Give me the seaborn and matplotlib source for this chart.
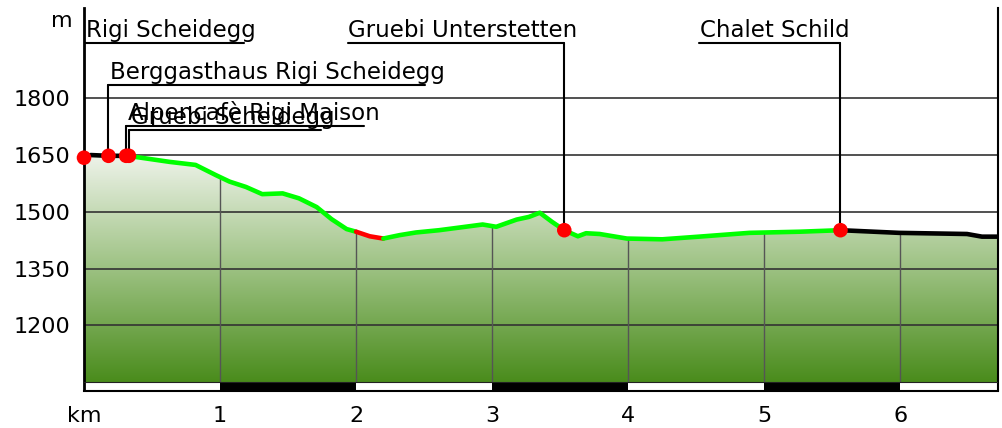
import numpy as np
import pandas as pd
import seaborn as sns
import matplotlib.pyplot as plt
from matplotlib.colors import LinearSegmentedColormap

# profile (km, m)
dist_km = [0.00, 0.05, 0.18, 0.31, 0.33, 0.38, 0.63, 0.82, 0.97, 1.07, 1.19, 1.31,
           1.46, 1.58, 1.71, 1.82, 1.93, 2.00, 2.10, 2.20, 2.32, 2.44, 2.61, 2.76,
           2.93, 3.03, 3.18, 3.27, 3.35, 3.44, 3.53, 3.63, 3.69, 3.79, 3.99, 4.25,
           4.52, 4.89, 5.26, 5.56, 5.99, 6.49, 6.60, 6.72]
elev_m = [1642, 1649, 1647, 1647, 1647, 1644, 1631, 1623, 1596, 1579, 1565, 1546,
          1548, 1535, 1512, 1480, 1454, 1447, 1435, 1429, 1438, 1445, 1451, 1458,
          1466, 1460, 1479, 1486, 1497, 1473, 1451, 1435, 1443, 1441, 1429, 1427,
          1434, 1444, 1447, 1451, 1444, 1441, 1434, 1434]

# coloured sections of the track
seg_start = [0.00, 0.33, 2.00, 2.20, 5.56]
seg_end = [0.33, 2.00, 2.20, 5.56, 6.72]
seg_color = ['black', '#00ff00', 'red', '#00ff00', 'black']

# waypoints
wp_names = ['Rigi Scheidegg', 'Berggasthaus Rigi Scheidegg', 'Alpencafè Rigi Maison',
            'Gruebi Scheidegg', 'Gruebi Unterstetten', 'Chalet Schild']
wp_km = [0.00, 0.18, 0.31, 0.33, 3.53, 5.56]
wp_m = [1642, 1647, 1647, 1647, 1451, 1451]
wp_label_m = [1944, 1833, 1725, 1715, 1944, 1944]
wp_side = ['right', 'right', 'right', 'right', 'left', 'left']

y_ticks = [1200, 1350, 1500, 1650, 1800]
x_ticks = [0, 1, 2, 3, 4, 5, 6]
x_labels = ['km', '1', '2', '3', '4', '5', '6']

ymin, ymax = 1028.6, 2036.5
base = 1050
xmax = dist_km[-1]

sns.set_style('white')
plt.rcParams['font.family'] = ['DejaVu Sans']
plt.rcParams['text.color'] = 'black'
plt.rcParams['xtick.color'] = 'black'
plt.rcParams['ytick.color'] = 'black'

fig = plt.figure(figsize=(10.02, 4.28), dpi=100)
ax = fig.add_axes([84 / 1002, 1 - 390.5 / 428, (998.3 - 84) / 1002, (390.5 - 8) / 428])
ax.set_xlim(0, xmax)
ax.set_ylim(ymin, ymax)

df = pd.DataFrame({'km': dist_km, 'm': elev_m})

# gradient fill under the profile
poly = ax.fill_between(df['km'], base, df['m'], facecolor='none', edgecolor='none')
cmap = LinearSegmentedColormap.from_list('hill', ['#4a8c1c', '#9fc385', '#f3f6f0'])
grad = np.linspace(0, 1, 256).reshape(-1, 1)
im = ax.imshow(grad, cmap=cmap, origin='lower', aspect='auto',
               extent=[0, xmax, base, 1665], zorder=1)
im.set_clip_path(poly.get_paths()[0], transform=ax.transData)
ax.set_xlim(0, xmax)
ax.set_ylim(ymin, ymax)

# grid
for yv in y_ticks:
    ax.axhline(yv, color='#333333', lw=1.2, zorder=2)
for xv in x_ticks[1:]:
    ax.vlines(xv, base, np.interp(xv, dist_km, elev_m), color='#555555', lw=1, zorder=2)

# km scale bar
bar_x = x_ticks
bar_w = [min(1, xmax - x) for x in bar_x]
bar_c = ['white' if i % 2 == 0 else 'black' for i in range(len(bar_x))]
ax.bar(bar_x, base - ymin, width=bar_w, bottom=ymin, align='edge',
       color=bar_c, edgecolor='none', zorder=2)
ax.axhline(base, color='#222222', lw=0.8, zorder=3)

# track
for s, e, c in zip(seg_start, seg_end, seg_color):
    part = df[(df['km'] >= s) & (df['km'] <= e)]
    sns.lineplot(data=part, x='km', y='m', color=c, lw=3.3, sort=False,
                 ax=ax, zorder=4, solid_capstyle='round')

# waypoint labels
fig.canvas.draw()
rend = fig.canvas.get_renderer()
to_data = ax.transData.inverted()
for name, k, m, lm, side in zip(wp_names, wp_km, wp_m, wp_label_m, wp_side):
    t = ax.text(k, lm, name, fontsize=16.5, va='baseline', ha='left', zorder=5)
    bb = t.get_window_extent(rend)
    w = (to_data.transform((bb.x1, 0))[0] - to_data.transform((bb.x0, 0))[0])
    ul = w * 0.945
    if side == 'right':
        x0, x1 = k, k + ul
        tx = k + 0.012
    else:
        x0, x1 = k - ul, k
        tx = x0 + 0.005
    t.set_position((tx, lm + 17))
    ax.plot([x0, x1], [lm, lm], color='black', lw=1.5, zorder=5)
    ax.plot([k, k], [lm, m], color='black', lw=1.5, zorder=5)

sns.scatterplot(x=wp_km, y=wp_m, color='red', s=110, edgecolor='none',
                ax=ax, zorder=6, clip_on=False)

# axes styling
ax.set_yticks(y_ticks)
ax.set_yticklabels([str(v) for v in y_ticks], fontsize=16)
ax.set_xticks(x_ticks)
ax.set_xticklabels(x_labels, fontsize=16)
ax.tick_params(axis='y', length=0, pad=10)
ax.tick_params(axis='x', length=0, pad=11)
ax.set_xlabel('')
ax.set_ylabel('')
ax.text(-0.085, 1987, 'm', fontsize=16, ha='right', va='baseline')
ax.grid(False)
ax.spines['top'].set_visible(False)
for sp in ['left', 'right', 'bottom']:
    ax.spines[sp].set_color('black')
ax.spines['left'].set_linewidth(2)
ax.spines['right'].set_linewidth(1.5)
ax.spines['bottom'].set_linewidth(1.5)

fig.savefig('out.png', dpi=100)
